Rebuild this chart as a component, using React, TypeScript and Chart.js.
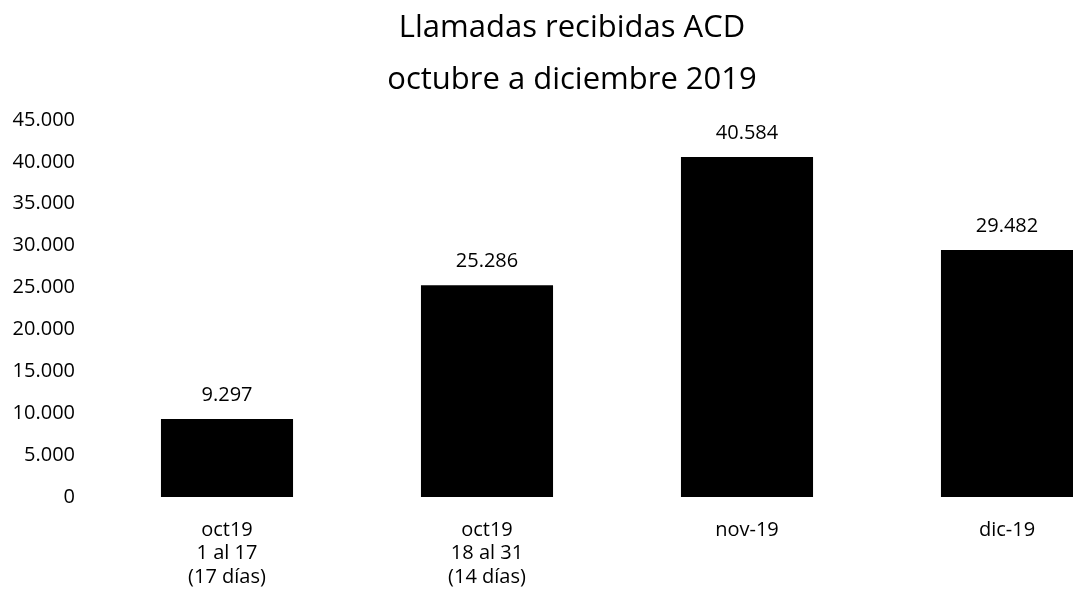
import React, { useEffect, useRef } from "react";
import { Chart, registerables } from "chart.js";

Chart.register(...registerables);

const titleLines = ["Llamadas recibidas ACD", "octubre a diciembre 2019"];
const categories: string[][] = [
  ["oct19", "1 al 17", "(17 días)"],
  ["oct19", "18 al 31", "(14 días)"],
  ["nov-19"],
  ["dic-19"],
];
const llamadas = [9297, 25286, 40584, 29482];
const yMin = 0;
const yMax = 45000;
const yStep = 5000;

const FONT = "'Open Sans', 'DejaVu Sans', sans-serif";

function fmt(v: number): string {
  return Math.round(v)
    .toString()
    .replace(/\B(?=(\d{3})+(?!\d))/g, ".");
}

const valueLabels = {
  id: "valueLabels",
  afterDatasetsDraw(chart: any) {
    const ctx = chart.ctx;
    const meta = chart.getDatasetMeta(0);
    const data = chart.data.datasets[0].data as number[];
    ctx.save();
    ctx.font = `20px ${FONT}`;
    ctx.fillStyle = "#000";
    ctx.textAlign = "center";
    ctx.textBaseline = "middle";
    meta.data.forEach((bar: any, i: number) => {
      ctx.fillText(fmt(data[i]), bar.x, bar.y - 24);
    });
    ctx.restore();
  },
};

export default function App() {
  const ref = useRef<HTMLCanvasElement | null>(null);

  useEffect(() => {
    if (!ref.current) return;
    const chart = new Chart(ref.current, {
      type: "bar",
      data: {
        labels: categories,
        datasets: [
          {
            data: llamadas,
            backgroundColor: "#000000",
            borderWidth: 0,
            barPercentage: 0.508,
            categoryPercentage: 1,
          },
        ],
      },
      options: {
        animation: false,
        responsive: false,
        maintainAspectRatio: false,
        devicePixelRatio: 1,
        layout: { padding: { left: 7, right: 8, top: 0, bottom: 0 } },
        plugins: {
          legend: { display: false },
          tooltip: { enabled: false },
          title: {
            display: true,
            text: titleLines,
            color: "#000",
            font: { family: FONT, size: 31, weight: "normal", lineHeight: "52px" },
            padding: { top: 2, bottom: 14 },
          },
        },
        scales: {
          x: {
            grid: { display: false, drawTicks: false },
            border: { display: false },
            ticks: {
              color: "#000",
              font: { family: FONT, size: 20, lineHeight: 1.18 },
              padding: 21,
              maxRotation: 0,
              autoSkip: false,
            },
            afterFit(scale: any) {
              scale.height = 106;
            },
          },
          y: {
            min: yMin,
            max: yMax,
            grid: { display: false, drawTicks: false },
            border: { display: false },
            ticks: {
              stepSize: yStep,
              color: "#000",
              font: { family: FONT, size: 20 },
              padding: 22,
              callback: (v: any) => fmt(Number(v)),
            },
            afterFit(scale: any) {
              scale.width = 90;
            },
          },
        },
      },
      plugins: [valueLabels],
    });
    return () => chart.destroy();
  }, []);

  return (
    <div
      style={{
        position: "fixed",
        left: 0,
        top: 0,
        width: 1073,
        height: 603,
        overflow: "hidden",
        background: "#fff",
      }}
    >
      <canvas ref={ref} width={1145} height={603} style={{ display: "block", width: 1145, height: 603 }} />
    </div>
  );
}
